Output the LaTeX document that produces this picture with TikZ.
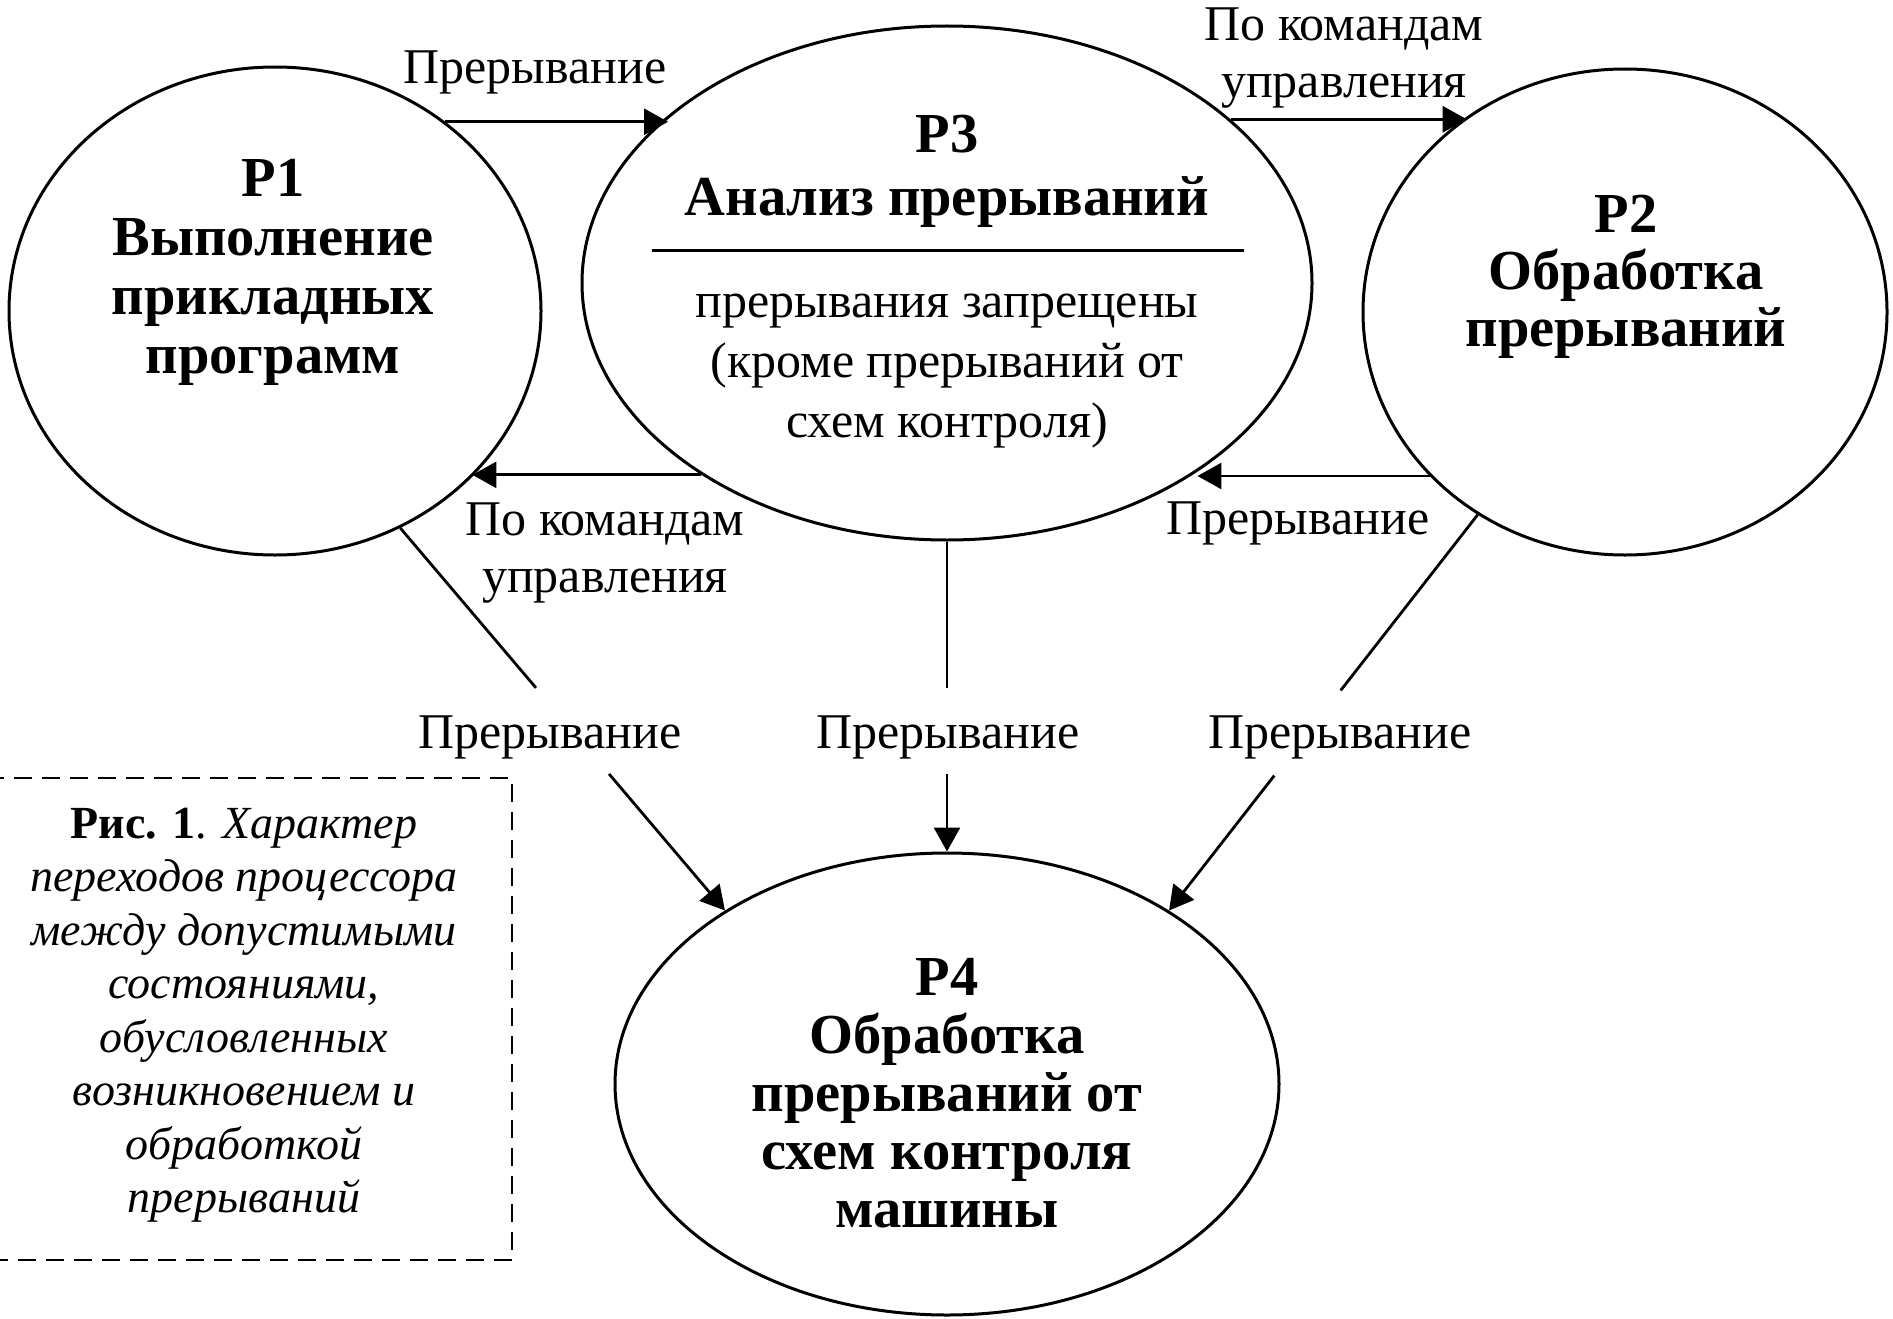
\documentclass[tikz,border=0pt]{standalone}
\usepackage{fontspec}
\setmainfont{Liberation Serif}
\usetikzlibrary{shapes.geometric,arrows.meta,calc}
\begin{document}
\begin{tikzpicture}[x=1pt,y=-1pt,
  proc/.style={draw, ellipse, line width=3pt, inner sep=0pt},
  conn/.style={line width=2.8pt},
  arr/.style={conn, -{Triangle[length=24pt,width=26pt]}},
  lbl/.style={font=\fontsize{50}{57.5}\selectfont, align=center, inner sep=0pt},
  ttl/.style={font=\fontsize{56.5}{59}\selectfont\bfseries, align=center, inner sep=0pt},
  capbox/.style={draw, line width=2.8pt, dash pattern=on 18pt off 10pt},
  captext/.style={font=\fontsize{46}{53.5}\selectfont, align=center, inner sep=0pt}]
\useasboundingbox[fill=white] (0,0) rectangle (1893,1319);

% processes
\node[proc, minimum width=532pt, minimum height=488pt] (P1) at (275,311) {};
\node[proc, minimum width=730pt, minimum height=514pt] (P3) at (947,283) {};
\node[proc, minimum width=524pt, minimum height=486pt] (P2) at (1625,312) {};
\node[proc, minimum width=664pt, minimum height=462pt] (P4) at (947,1084) {};

% texts inside
\node[ttl] (t1) at (273,272) {P1\\Выполнение\\прикладных\\программ};
\node[ttl, font=\fontsize{56.5}{63}\selectfont\bfseries] (t3a) at (947,171) {P3\\Анализ прерываний};
\draw[line width=3pt] (652,250) -- (1244,250);
\node[lbl, font=\fontsize{50}{60}\selectfont] (t3b) at (947,371) {прерывания запрещены\\(кроме прерываний от\\схем контроля)};
\node[ttl, font=\fontsize{56.5}{57}\selectfont\bfseries] (t2) at (1626,277) {P2\\Обработка\\прерываний};
\node[ttl, font=\fontsize{56.5}{58}\selectfont\bfseries] (t4) at (947,1093) {P4\\Обработка\\прерываний от\\схем контроля\\машины};

% horizontal connectors
\draw[arr] (P1.48.8) -- (P1.48.8 -| P3.149.5);
\draw[arr] (P3.30.4) -- (P3.30.4 -| P2.129.9);
\draw[arr] (P3.218.6) -- (P3.218.6 -| P1.-40.4);
\draw[arr] (P2.220.1) -- (P2.220.1 -| P3.-37.9);

\node[lbl] (l12) at (535,72) {Прерывание};
\node[lbl] (l32) at (1344,58) {По командам\\управления};
\node[lbl] (l31) at (605,553) {По командам\\управления};
\node[lbl] (l23) at (1298,523) {Прерывание};

% connectors to P4
\coordinate (a1) at ($(P1.-60)!0.418!(P4.142)$);
\coordinate (a2) at ($(P1.-60)!0.643!(P4.142)$);
\draw[conn] (P1.-60) -- (a1);
\draw[arr] (a2) -- (P4.142);

\coordinate (b1) at (947,688);
\coordinate (b2) at (947,774);
\draw[conn] (P3.south) -- (b1);
\draw[arr] (b2) -- (P4.north);

\coordinate (c1) at ($(P2.-126)!0.444!(P4.38)$);
\coordinate (c2) at ($(P2.-126)!0.659!(P4.38)$);
\draw[conn] (P2.-126) -- (c1);
\draw[arr] (c2) -- (P4.38);

\node[lbl] (l14) at (550,737) {Прерывание};
\node[lbl] (l34) at (948,737) {Прерывание};
\node[lbl] (l24) at (1340,737) {Прерывание};

% caption
\node[capbox, minimum width=522pt, minimum height=482pt] (cbox) at (251,1019) {};
\node[captext] (cap) at (244,1015) {\textbf{Рис. 1}. \itshape Характер\\\itshape переходов процессора\\\itshape между допустимыми\\\itshape состояниями,\\\itshape обусловленных\\\itshape возникновением и\\\itshape обработкой\\\itshape прерываний};
\end{tikzpicture}
\end{document}
